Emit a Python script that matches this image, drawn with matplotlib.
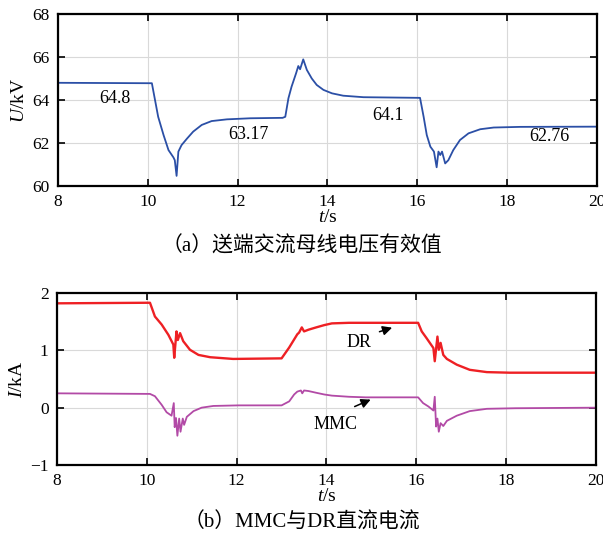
import matplotlib
matplotlib.use("Agg")
import matplotlib.pyplot as plt

plt.rcParams['font.family'] = ['Liberation Serif', 'Noto Sans CJK SC']
plt.rcParams['mathtext.fontset'] = 'custom'
plt.rcParams['mathtext.rm'] = 'Liberation Serif'
plt.rcParams['mathtext.it'] = 'Liberation Serif:italic'

# (a) sending-end AC bus RMS voltage
t_u = [8.0, 10.09, 10.16, 10.23, 10.35, 10.46, 10.57, 10.6, 10.64, 10.68, 10.75,
       10.87, 11.01, 11.2, 11.42, 11.76, 12.28, 13.0, 13.06, 13.13, 13.2, 13.3,
       13.35, 13.39, 13.46, 13.54, 13.65, 13.76, 13.91, 14.1, 14.35, 14.8, 16.06,
       16.14, 16.21, 16.29, 16.37, 16.43, 16.47, 16.51, 16.55, 16.62, 16.69, 16.8,
       16.95, 17.14, 17.4, 17.7, 18.29, 20.0]
u = [64.8, 64.78, 64.0, 63.22, 62.37, 61.67, 61.33, 61.2, 60.47, 61.6, 61.9,
     62.2, 62.53, 62.84, 63.02, 63.1, 63.15, 63.17, 63.22, 64.08, 64.62, 65.24,
     65.58, 65.43, 65.89, 65.4, 65.0, 64.7, 64.47, 64.31, 64.2, 64.13, 64.1,
     63.22, 62.37, 61.83, 61.6, 60.87, 61.6, 61.44, 61.6, 61.05, 61.2, 61.67,
     62.14, 62.45, 62.64, 62.72, 62.75, 62.76]
u_labels = ['64.8', '63.17', '64.1', '62.76']
u_label_t = [9.27, 12.25, 15.35, 18.93]
u_label_v = [64.05, 62.4, 63.3, 62.3]

# (b) DC currents of DR and MMC
t_dr = [8.0, 10.07, 10.18, 10.33, 10.48, 10.59, 10.61, 10.66, 10.69, 10.74, 10.81,
        10.96, 11.15, 11.41, 11.92, 13.0, 13.17, 13.35, 13.39, 13.45, 13.5, 13.6,
        13.77, 13.95, 14.12, 14.5, 16.04, 16.12, 16.23, 16.38, 16.41, 16.47, 16.5,
        16.54, 16.6, 16.68, 16.9, 17.19, 17.57, 18.08, 20.0]
i_dr = [1.82, 1.83, 1.59, 1.45, 1.27, 1.1, 0.87, 1.33, 1.18, 1.3, 1.16,
        1.01, 0.92, 0.88, 0.85, 0.86, 1.05, 1.28, 1.31, 1.4, 1.33, 1.36,
        1.40, 1.44, 1.47, 1.48, 1.48, 1.33, 1.21, 1.04, 0.81, 1.24, 1.01,
        1.13, 0.92, 0.85, 0.75, 0.66, 0.62, 0.61, 0.61]

t_mmc = [8.0, 10.07, 10.18, 10.33, 10.44, 10.55, 10.6, 10.62, 10.65, 10.68, 10.72,
         10.75, 10.8, 10.83, 10.89, 11.04, 11.22, 11.48, 12.04, 13.0, 13.17, 13.28,
         13.35, 13.43, 13.46, 13.5, 13.6, 13.77, 13.95, 14.12, 14.5, 14.87, 16.04,
         16.15, 16.27, 16.38, 16.41, 16.44, 16.47, 16.5, 16.54, 16.6, 16.68, 16.9,
         17.19, 17.57, 18.2, 20.0]
i_mmc = [0.25, 0.24, 0.2, 0.05, -0.08, -0.14, 0.08, -0.34, -0.18, -0.49, -0.19,
         -0.42, -0.19, -0.3, -0.16, -0.06, 0.0, 0.03, 0.04, 0.04, 0.11, 0.23,
         0.28, 0.3, 0.25, 0.3, 0.29, 0.26, 0.23, 0.21, 0.19, 0.18, 0.18,
         0.08, 0.02, -0.05, 0.19, -0.33, -0.19, -0.42, -0.27, -0.32, -0.23, -0.14,
         -0.06, -0.02, -0.01, 0.0]

fig = plt.figure(figsize=(6.03, 5.4), dpi=100)
ax1 = fig.add_axes([58 / 603, 1 - 186 / 540, 539 / 603, 172 / 540])
ax2 = fig.add_axes([57 / 603, 1 - 465 / 540, 539 / 603, 172 / 540])

for ax in (ax1, ax2):
    ax.grid(True, color='#d9d9d9', lw=0.8)
    ax.set_axisbelow(True)
    for s in ax.spines.values():
        s.set_linewidth(1.6)
    ax.tick_params(direction='in', top=True, right=True, labelsize=12.5,
                   width=1.2, length=5, pad=6)
    ax.set_xlim(8, 20)
    ax.set_xticks([8, 10, 12, 14, 16, 18, 20])

ax1.plot(t_u, u, color='#2b4fa6', lw=1.3)
ax1.set_ylim(60, 68)
ax1.set_yticks([60, 62, 64, 66, 68])
for s, x, y in zip(u_labels, u_label_t, u_label_v):
    ax1.text(x, y, s, fontsize=13, ha='center', va='center')
ax1.set_xlabel('$t$/s', fontsize=14, labelpad=-1)
ax1.set_ylabel('$U$/kV', fontsize=14, labelpad=3)

ax2.plot(t_dr, i_dr, color='#ee2024', lw=1.7)
ax2.plot(t_mmc, i_mmc, color='#b24aa6', lw=1.3)
ax2.set_ylim(-1, 2)
ax2.set_yticks([-1, 0, 1, 2])
ax2.set_yticklabels(['\u22121', '0', '1', '2'])
ax2.annotate('', xy=(15.52, 1.41), xytext=(15.12, 1.31),
             arrowprops=dict(arrowstyle='-|>', color='black', lw=1.1, mutation_scale=14))
ax2.text(14.72, 1.13, 'DR', fontsize=13, ha='center', va='center')
ax2.annotate('', xy=(15.04, 0.16), xytext=(14.57, 0.0),
             arrowprops=dict(arrowstyle='-|>', color='black', lw=1.1, mutation_scale=14))
ax2.text(14.19, -0.3, 'MMC', fontsize=13, ha='center', va='center')
ax2.set_xlabel('$t$/s', fontsize=14, labelpad=-1)
ax2.set_ylabel('$I$/kA', fontsize=14, labelpad=3)

fig.text(0.5, 1 - 247 / 540, '（a）送端交流母线电压有效值', fontsize=15,
         ha='center', va='center')
fig.text(0.5, 1 - 523 / 540, '（b）MMC与DR直流电流', fontsize=15,
         ha='center', va='center')

fig.savefig('out.png', dpi=100)
